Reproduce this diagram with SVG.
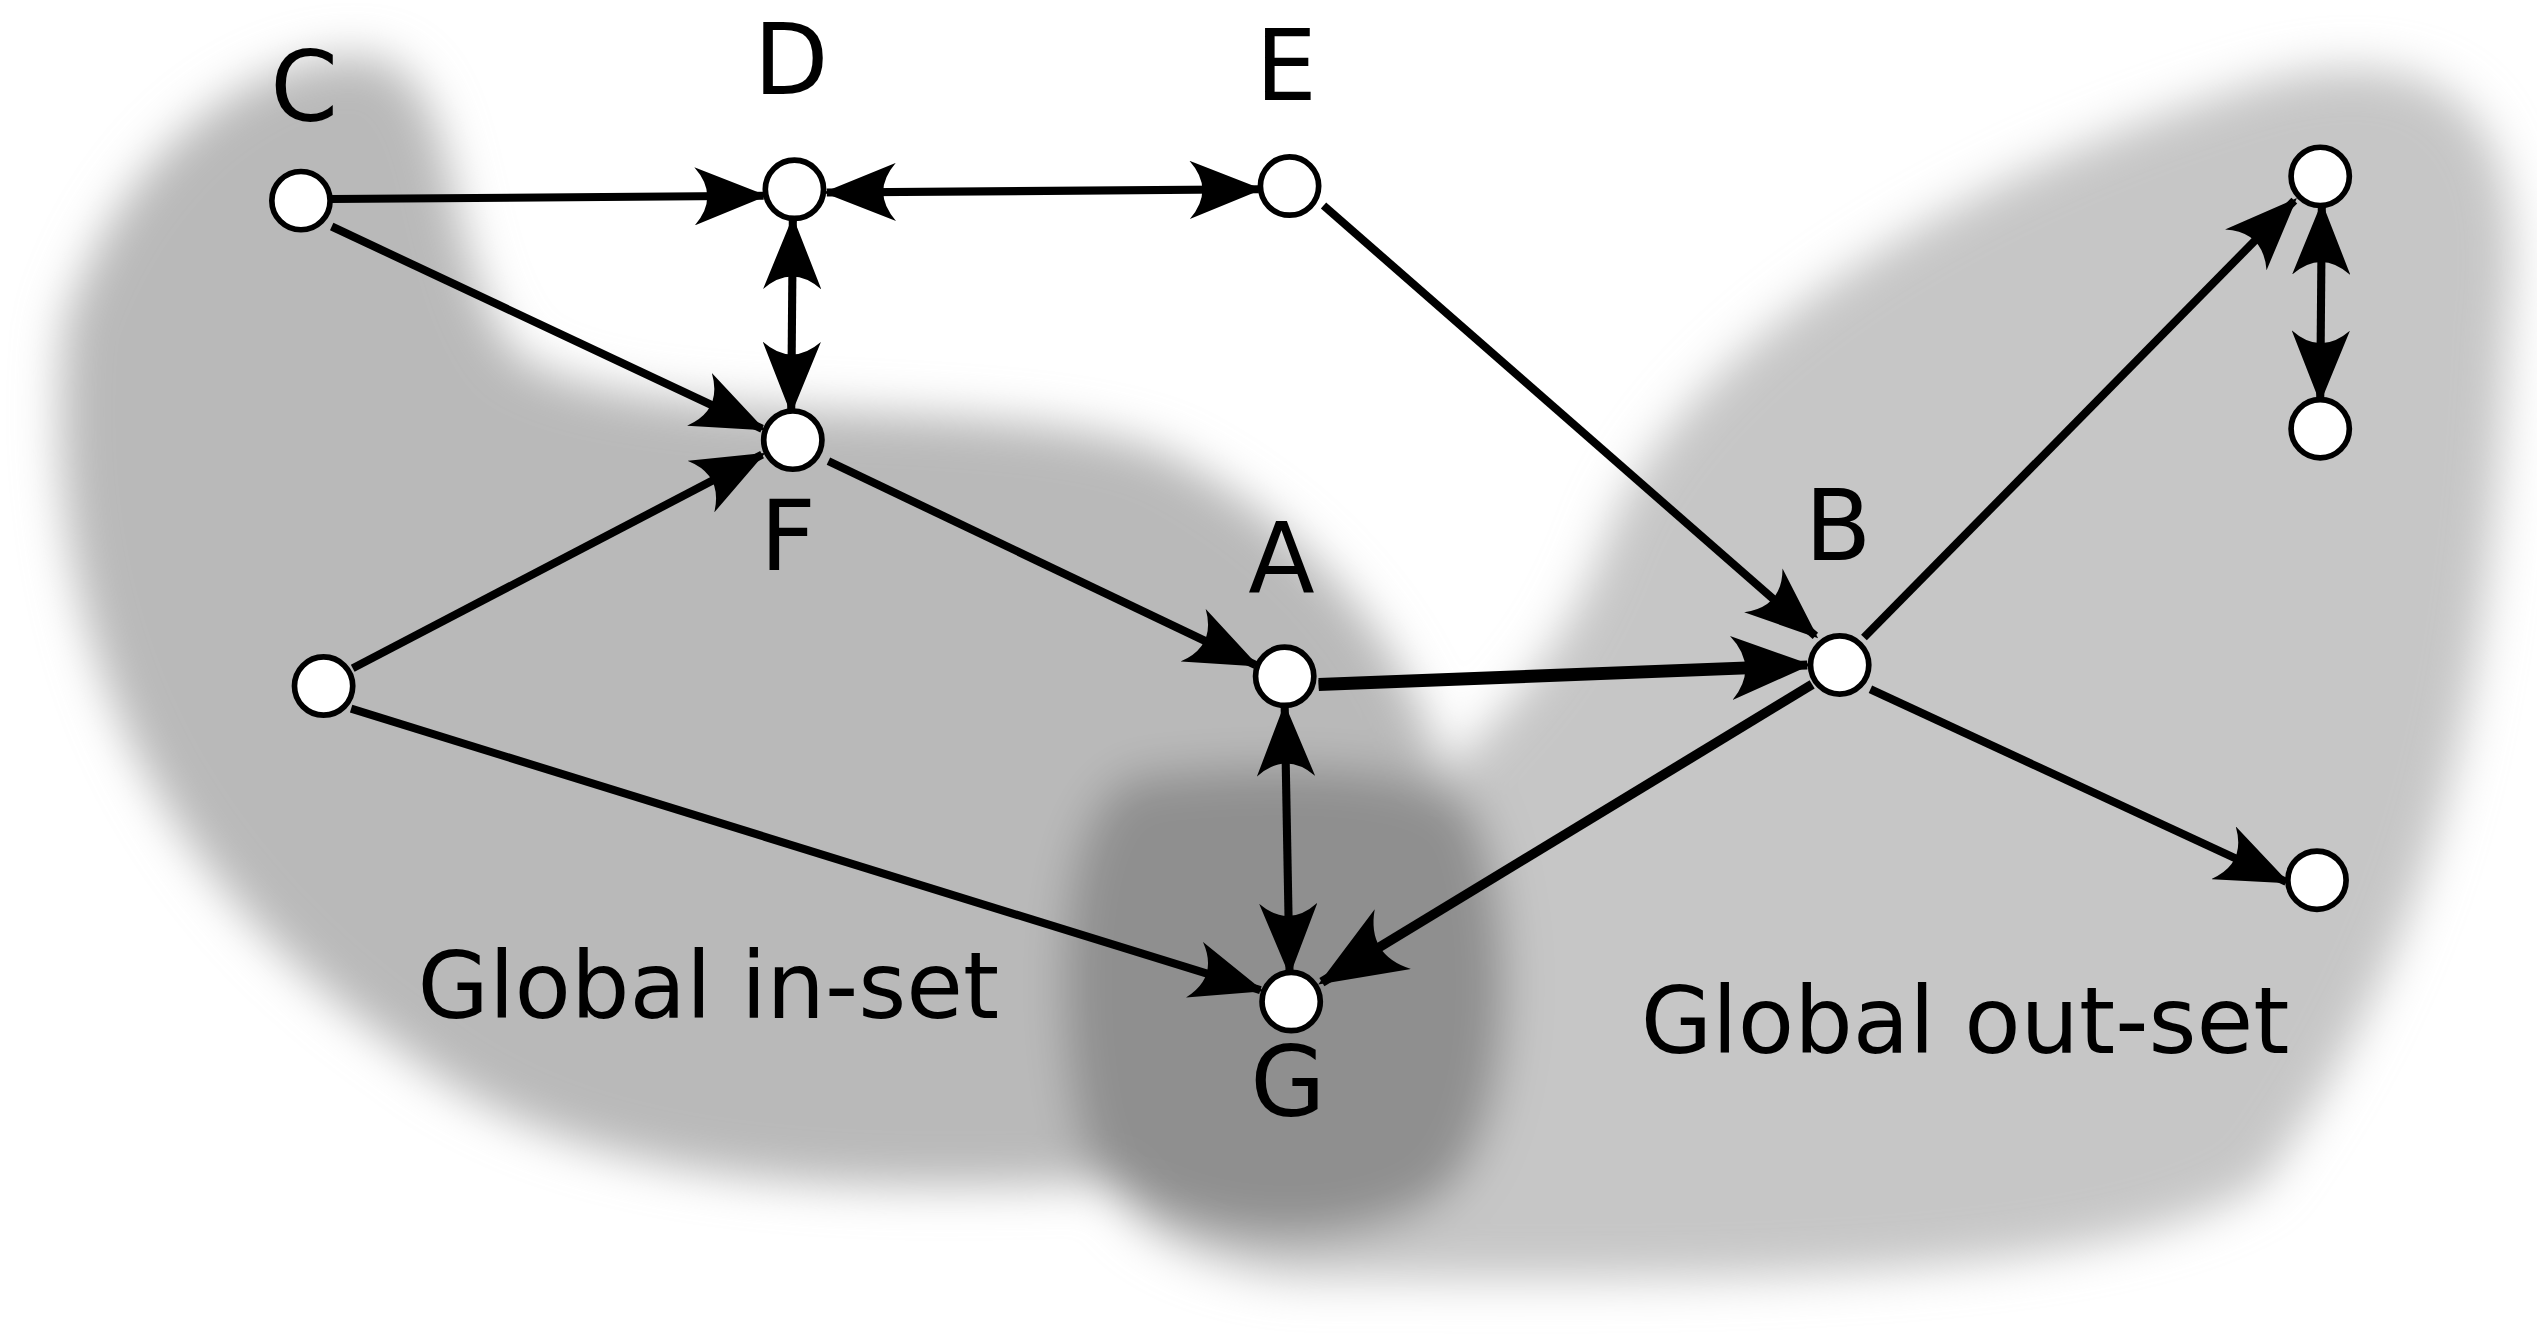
<svg xmlns="http://www.w3.org/2000/svg" width="2537" height="1339" viewBox="0 0 2537 1339">
<style>
.e{stroke:#000;stroke-width:5;fill:none}
.n{fill:#fff;stroke:#000;stroke-width:3.5}
.l{font-family:"DejaVu Sans",sans-serif;font-size:60px;fill:#000}
.g{font-family:"DejaVu Sans",sans-serif;font-size:57px;fill:#000}
</style>
<defs>
<filter id="b" x="-20%" y="-20%" width="140%" height="140%"><feGaussianBlur stdDeviation="14"/></filter>
<marker id="a" viewBox="0 0 10 8" markerWidth="9" markerHeight="7.2" refX="9.5" refY="4" orient="auto-start-reverse"><path d="M0,0 L10,4 L0,8 Q3.5,4 0,0 Z" fill="#000"/></marker>
</defs>
<rect width="2537" height="1339" fill="#fff"/>
<g transform="scale(1.618)">
<g id="blobs" filter="url(#b)">
<path d="M990,340 C1030,220 1200,110 1400,50 C1520,20 1565,80 1550,200 C1540,400 1520,560 1400,730 C1300,800 1000,790 800,790 C700,780 650,720 690,650 C740,560 850,520 900,470 C950,420 970,390 990,340 Z" fill="#c6c6c6"/>
<path d="M40,200 C80,80 170,30 230,35 C290,50 270,160 320,220 C400,270 620,240 720,280 C820,330 890,420 900,520 C910,640 850,720 700,730 C500,740 350,730 250,650 C120,560 20,420 40,200 Z" fill="#b9b9b9"/>
<path d="M700,480 C780,470 880,470 910,500 C940,560 940,700 890,740 C830,780 700,770 670,710 C650,640 650,500 700,480 Z" fill="#8f8f8f"/>
</g>
<g id="connectors">
<line class="e" x1="205" y1="123" x2="472" y2="121" marker-end="url(#a)"/>
<line class="e" x1="511" y1="119" x2="778" y2="117" marker-start="url(#a)" marker-end="url(#a)"/>
<line class="e" x1="205" y1="140" x2="471" y2="265" marker-end="url(#a)"/>
<line class="e" x1="490" y1="136" x2="489" y2="254" marker-start="url(#a)" marker-end="url(#a)"/>
<line class="e" x1="218" y1="413" x2="471" y2="281" marker-end="url(#a)"/>
<line class="e" x1="512" y1="285" x2="776" y2="411" marker-end="url(#a)"/>
<line class="e" x1="818" y1="127" x2="1122" y2="393" marker-end="url(#a)"/>
<line class="e" x1="815" y1="423" x2="1100" y2="412" style="stroke-width:8"/>
<line class="e" x1="815" y1="423" x2="1117" y2="411" style="stroke-width:5.5" marker-end="url(#a)"/>
<line class="e" x1="1120" y1="423" x2="817" y2="607" style="stroke-width:6" marker-end="url(#a)"/>
<line class="e" x1="217" y1="438" x2="779" y2="612" marker-end="url(#a)"/>
<line class="e" x1="794" y1="437" x2="797" y2="601" marker-start="url(#a)" marker-end="url(#a)"/>
<line class="e" x1="1152" y1="394" x2="1418" y2="124" marker-end="url(#a)"/>
<line class="e" x1="1435" y1="127" x2="1434" y2="247" marker-start="url(#a)" marker-end="url(#a)"/>
<line class="e" x1="1156" y1="426" x2="1413" y2="545" marker-end="url(#a)"/>
</g>
<g id="C"><circle class="n" cx="186" cy="124" r="18"/><text class="l" x="188" y="75" text-anchor="middle">C</text></g>
<g id="D"><circle class="n" cx="491" cy="117" r="18"/><text class="l" x="489" y="58" text-anchor="middle">D</text></g>
<g id="E"><circle class="n" cx="797" cy="115" r="18"/><text class="l" x="795" y="62" text-anchor="middle">E</text></g>
<g id="F"><circle class="n" cx="490" cy="272" r="18"/><text class="l" x="487" y="352" text-anchor="middle">F</text></g>
<g id="L"><circle class="n" cx="200" cy="424" r="18"/></g>
<g id="A"><circle class="n" cx="794" cy="418" r="18"/><text class="l" x="792" y="366" text-anchor="middle">A</text></g>
<g id="G"><circle class="n" cx="798" cy="619" r="18"/><text class="l" x="796" y="690" text-anchor="middle">G</text></g>
<g id="B"><circle class="n" cx="1137" cy="411" r="18"/><text class="l" x="1136" y="346" text-anchor="middle">B</text></g>
<g id="TR"><circle class="n" cx="1434" cy="109" r="18"/></g>
<g id="TR2"><circle class="n" cx="1434" cy="265" r="18"/></g>
<g id="BR"><circle class="n" cx="1432" cy="544" r="18"/></g>
<text class="g" x="258" y="629">Global in-set</text>
<text class="g" x="1014" y="651">Global out-set</text>
</g>
</svg>
